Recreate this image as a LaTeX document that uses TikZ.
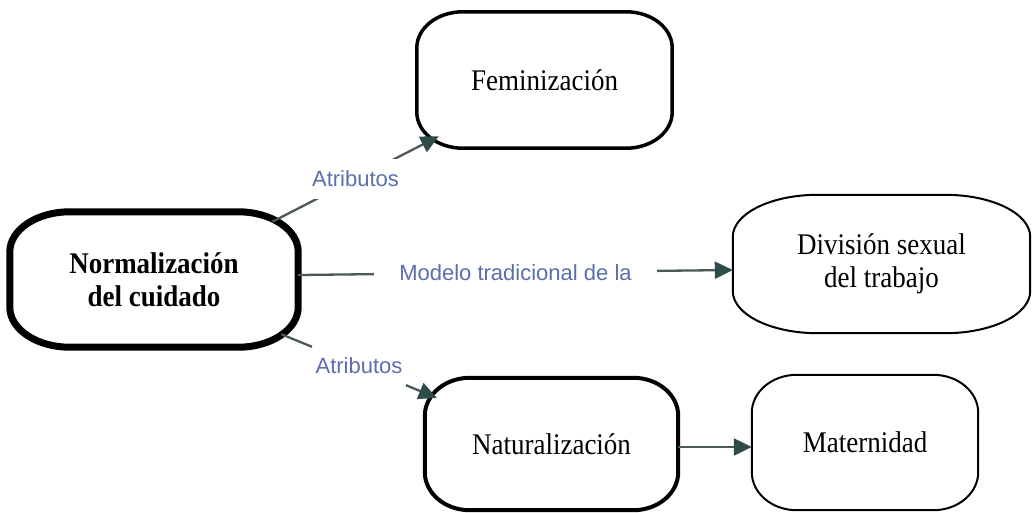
\documentclass[tikz,border=0pt]{standalone}
\usepackage{fontspec}
\setmainfont{Liberation Serif}
\newfontfamily\conceptfont[FakeStretch=0.9]{Liberation Serif}
\newfontfamily\labelfont{Liberation Sans}
\usetikzlibrary{arrows.meta,calc}

\definecolor{linkgray}{HTML}{4B5957}
\definecolor{headgray}{HTML}{2E4D4A}
\definecolor{labelblue}{HTML}{5B6EAE}

% Frame with elliptic corners drawn on the border of a node:
% #1 node name, #2 x radius, #3 y radius, #4 line width
\newcommand\ovalframe[4]{%
  \draw[line width=#4, line join=round]
    ([xshift=#2]#1.north west) -- ([xshift=-#2]#1.north east)
    arc[start angle=90, end angle=0, x radius=#2, y radius=#3]
    -- ([yshift=#3]#1.south east)
    arc[start angle=0, end angle=-90, x radius=#2, y radius=#3]
    -- ([xshift=#2]#1.south west)
    arc[start angle=270, end angle=180, x radius=#2, y radius=#3]
    -- ([yshift=-#3]#1.north west)
    arc[start angle=180, end angle=90, x radius=#2, y radius=#3] -- cycle;}

\tikzset{
  concept/.style={inner sep=0pt, align=center,
    font=\conceptfont\fontsize{30}{33}\selectfont},
  conn/.style={draw=linkgray, line width=2.3pt,
    -{Triangle[length=18pt, width=17pt, color=headgray, fill=headgray]}},
  lbl/.style={fill=white, text=labelblue, inner xsep=4pt, inner ysep=12pt,
    font=\labelfont\fontsize{22}{26}\selectfont},
}

\begin{document}
\begin{tikzpicture}[x=1pt, y=-1pt]
  \fill[white] (0,0) rectangle (1032,512);
  \useasboundingbox (0,0) rectangle (1032,512);

  % concepts
  \node[concept, minimum width=288pt, minimum height=135pt] (norm) at (154,279.5)
    {\bfseries Normalización\\\bfseries del cuidado};
  \node[concept, minimum width=255pt, minimum height=136pt] (fem) at (544.5,80)
    {Feminización};
  \node[concept, minimum width=297pt, minimum height=138pt] (div) at (881.5,264)
    {División sexual\\del trabajo};
  \node[concept, minimum width=253pt, minimum height=132pt] (nat) at (551.5,444)
    {Naturalización};
  \node[concept, minimum width=226pt, minimum height=135pt] (mat) at (865,442.5)
    {Maternidad};

  \ovalframe{norm}{60pt}{40pt}{7pt}
  \ovalframe{fem}{46pt}{36pt}{3.5pt}
  \ovalframe{div}{85pt}{42pt}{2pt}
  \ovalframe{nat}{45pt}{38pt}{4pt}
  \ovalframe{mat}{45pt}{38pt}{2pt}

  % relations
  \draw[conn] ([xshift=-26pt, yshift=-10pt]norm.north east)
    -- node[lbl] {Atributos} ([xshift=22pt, yshift=12pt]fem.south west);
  \draw[conn] ([yshift=4.5pt]norm.east)
    -- node[lbl, inner xsep=25pt] {Modelo tradicional de la} ([yshift=-6pt]div.west);
  \draw[conn] ([xshift=-17pt, yshift=13pt]norm.south east)
    -- node[lbl] {Atributos} ([xshift=12pt, yshift=-20pt]nat.north west);
  \draw[conn] ([yshift=-3pt]nat.east) -- ([yshift=-4.5pt]mat.west);
\end{tikzpicture}
\end{document}
